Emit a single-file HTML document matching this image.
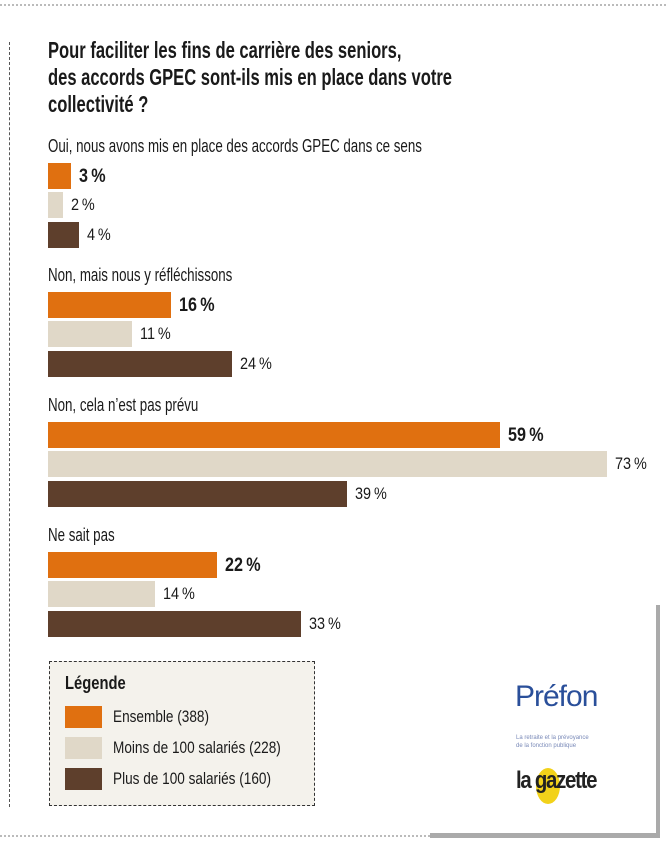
<!DOCTYPE html>
<html><head><meta charset="utf-8"><style>
body{margin:0;width:666px;height:846px;background:#fff;position:relative;overflow:hidden;font-family:"Liberation Sans",sans-serif;color:#1a1a1a}
.a{position:absolute}
.n{transform-origin:0 0;white-space:nowrap}
</style></head><body>
<div class="a" style="left:0;top:4px;width:666px;border-top:2px dotted #bbb"></div>
<div class="a" style="left:9px;top:42px;height:765px;border-left:1px dashed #555"></div>
<div class="a" style="left:0;top:835px;width:430px;border-top:2px dotted #bbb"></div>
<div class="a" style="left:430px;top:833px;width:230px;height:5px;background:#aaa"></div>
<div class="a" style="left:656px;top:605px;width:4px;height:233px;background:#aaa"></div>
<div class="a n" style="left:48px;top:37px;font-size:23px;font-weight:bold;line-height:27px;transform:scaleX(0.72)">Pour faciliter les fins de carrière des seniors,<br>des accords GPEC sont-ils mis en place dans votre<br>collectivité ?</div>
<div id="chart"></div>
<div class="a" style="left:49px;top:661px;width:264px;height:143px;background:#f4f2ec;border:1px dashed #333">
<div class="a n" style="left:15px;top:11px;font-size:18px;font-weight:bold;transform:scaleX(0.82)">Légende</div>
<div class="a" style="left:15px;top:44px;width:37px;height:22px;background:#e07010"></div>
<div class="a n" style="left:63px;top:45px;font-size:17px;transform:scaleX(0.8)">Ensemble (388)</div>
<div class="a" style="left:15px;top:75px;width:37px;height:22px;background:#e0d8c8"></div>
<div class="a n" style="left:63px;top:76px;font-size:17px;transform:scaleX(0.8)">Moins de 100 salariés (228)</div>
<div class="a" style="left:15px;top:106px;width:37px;height:22px;background:#5e3f2c"></div>
<div class="a n" style="left:63px;top:107px;font-size:17px;transform:scaleX(0.8)">Plus de 100 salariés (160)</div>
</div>
<div class="a" style="left:515px;top:680px;font-size:30px;color:#2a4f9a;letter-spacing:-1px">Préfon</div>
<div class="a" style="left:516px;top:734px;font-size:6px;color:#7a8ab8;line-height:8px">La retraite et la prévoyance<br>de la fonction publique</div>
<div class="a" style="left:536px;top:768px;width:24px;height:36px;border-radius:50%;background:#f2d21a"></div>
<div class="a n" style="left:516px;top:767px;font-size:24px;font-weight:bold;color:#222;letter-spacing:-1.5px;transform:scaleX(0.85)">la gazette</div>
<script>
const categories=["Oui, nous avons mis en place des accords GPEC dans ce sens","Non, mais nous y réfléchissons","Non, cela n’est pas prévu","Ne sait pas"];
const ensemble=[3,16,59,22];
const moins=[2,11,73,14];
const plus=[4,24,39,33];
const series=[ensemble,moins,plus];
const colors=["#e07010","#e0d8c8","#5e3f2c"];
const x0=48, k=7.66;
function xs(v){return v*k;}
const groupTop=[136,265,395,525];
const root=document.getElementById('chart');
categories.forEach((c,g)=>{
  const l=document.createElement('div');
  l.className='a n';
  
  
  l.style.cssText=`left:${x0}px;top:${groupTop[g]}px;font-size:18px;transform:scaleX(0.74)`;
  l.textContent=c;root.appendChild(l);
  series.forEach((s,i)=>{
    const y=groupTop[g]+27+i*29.3;
    const b=document.createElement('div');
    b.className='a';
    
    
    b.style.cssText=`left:${x0}px;top:${y}px;width:${xs(s[g])}px;height:26px;background:${colors[i]}`;
    root.appendChild(b);
    const t=document.createElement('div');
    t.className='a n';
    
    
    t.style.cssText=`left:${x0+xs(s[g])+8}px;top:${y+3}px;font-size:${i==0?19:17}px;font-weight:${i==0?'bold':'normal'};transform:scaleX(0.85)`;
    t.textContent=s[g]+'\u2009%';root.appendChild(t);
  });
});
</script>
</body></html>
